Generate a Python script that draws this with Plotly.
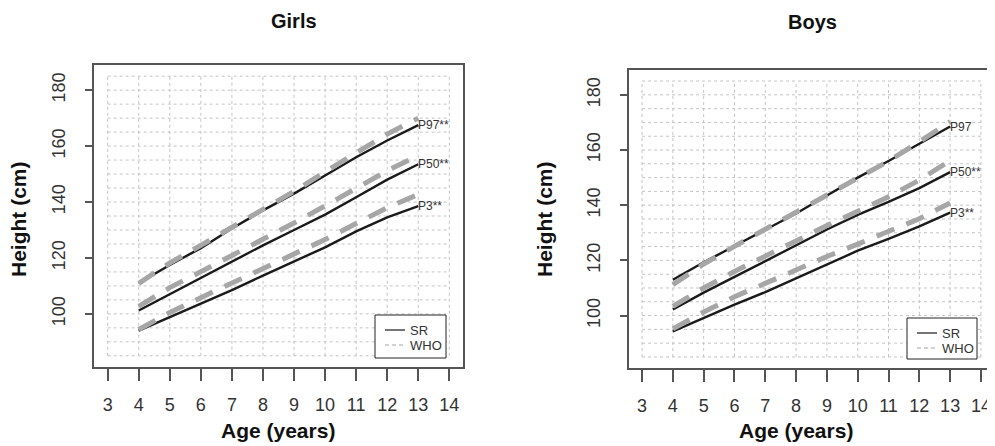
import plotly.graph_objects as go

# The page body has an 8px margin; the figure is shifted by it.
OFF = 8
W, H = 995 - OFF, 446 - OFF

ages = [4, 5, 6, 7, 8, 9, 10, 11, 12, 13]

# Girls
girls_sr_p3 = [94.0, 98.8, 103.5, 108.5, 113.7, 118.8, 123.8, 129.5, 134.5, 138.5]
girls_sr_p50 = [101.2, 107.0, 113.0, 118.8, 124.5, 130.0, 135.5, 141.7, 148.0, 153.5]
girls_sr_p97 = [111.0, 117.5, 123.5, 130.5, 137.0, 143.0, 149.5, 156.0, 162.0, 167.5]
girls_who_p3 = [94.4, 100.5, 105.8, 111.0, 116.1, 121.2, 126.6, 132.3, 138.0, 142.7]
girls_who_p50 = [102.7, 109.4, 115.1, 120.8, 126.6, 132.5, 138.6, 145.0, 151.2, 156.6]
girls_who_p97 = [110.9, 118.2, 124.5, 130.9, 137.3, 143.8, 150.8, 157.7, 164.3, 170.0]
girls_labels = ["P3**", "P50**", "P97**"]

# Boys
boys_sr_p3 = [94.3, 99.2, 104.0, 108.5, 113.5, 118.5, 123.5, 127.8, 132.3, 137.3]
boys_sr_p50 = [102.2, 108.3, 114.0, 119.8, 125.5, 131.2, 136.5, 141.2, 146.2, 152.0]
boys_sr_p97 = [113.0, 119.3, 125.2, 131.0, 137.0, 143.5, 150.0, 156.0, 162.3, 168.5]
boys_who_p3 = [95.2, 101.3, 106.8, 111.8, 116.7, 121.4, 125.9, 130.4, 135.1, 140.8]
boys_who_p50 = [103.3, 110.0, 116.0, 121.7, 127.3, 132.6, 137.8, 143.1, 149.1, 156.2]
boys_who_p97 = [111.2, 118.7, 125.1, 131.3, 137.3, 143.3, 149.5, 156.0, 163.0, 170.3]
boys_labels = ["P3**", "P50**", "P97"]

x_ticks = list(range(3, 15))
y_ticks = [100, 120, 140, 160, 180]
grid_x = list(range(3, 15))
grid_y = list(range(85, 190, 5))

BLACK = "#1a1a1a"
GRAY = "#a6a6a6"
FRAME = "#555555"
TXT = "#333333"
FONT = "Liberation Sans, Arial, sans-serif"


def px_x(p):
    return (p - OFF) / W


def px_y(p):
    return 1 - (p - OFF) / H


fig = go.Figure()

panels = [
    dict(name="Girls", xa="x", ya="y",
         sr=[girls_sr_p3, girls_sr_p50, girls_sr_p97],
         who=[girls_who_p3, girls_who_p50, girls_who_p97],
         labels=girls_labels,
         box=(94, 463, 65, 367), title_xy=(294, 21), ytitle_xy=(18, 219),
         xtitle_xy=(278, 430), leg=(375, 446, 315, 358)),
    dict(name="Boys", xa="x2", ya="y2",
         sr=[boys_sr_p3, boys_sr_p50, boys_sr_p97],
         who=[boys_who_p3, boys_who_p50, boys_who_p97],
         labels=boys_labels,
         box=(628.5, 994.5, 70, 368), title_xy=(812, 22), ytitle_xy=(544, 219),
         xtitle_xy=(796, 430), leg=(907, 977, 318, 359)),
]

shapes = []
annotations = []

for pnl in panels:
    xa, ya = pnl["xa"], pnl["ya"]
    # grid
    for gx in grid_x:
        shapes.append(dict(type="line", xref=xa, yref=ya, x0=gx, x1=gx,
                           y0=grid_y[0], y1=grid_y[-1], layer="below",
                           line=dict(color="#c4c4c4", width=1, dash="dot")))
    for gy in grid_y:
        shapes.append(dict(type="line", xref=xa, yref=ya, x0=grid_x[0], x1=grid_x[-1],
                           y0=gy, y1=gy, layer="below",
                           line=dict(color="#c4c4c4", width=1, dash="dot")))
    for s in pnl["sr"]:
        fig.add_trace(go.Scatter(x=ages, y=s, mode="lines", xaxis=xa, yaxis=ya,
                                 line=dict(color=BLACK, width=2.4), showlegend=False,
                                 hoverinfo="skip"))
    for s in pnl["who"]:
        fig.add_trace(go.Scatter(x=ages, y=s, mode="lines", xaxis=xa, yaxis=ya,
                                 line=dict(color=GRAY, width=5, dash="19px,13px"),
                                 showlegend=False, hoverinfo="skip"))
    for s, lab in zip(pnl["sr"], pnl["labels"]):
        annotations.append(dict(x=ages[-1], y=s[-1], xref=xa, yref=ya, text=lab,
                                showarrow=False, xanchor="left", yanchor="middle",
                                xshift=-2, font=dict(family=FONT, size=12, color=TXT)))
    # titles
    tx, ty = pnl["title_xy"]
    annotations.append(dict(x=px_x(tx), y=px_y(ty), xref="paper", yref="paper",
                            text="<b>%s</b>" % pnl["name"], showarrow=False,
                            xanchor="center", yanchor="middle",
                            font=dict(family=FONT, size=20, color="#111111")))
    yx, yy = pnl["ytitle_xy"]
    annotations.append(dict(x=px_x(yx), y=px_y(yy), xref="paper", yref="paper",
                            text="<b>Height (cm)</b>", showarrow=False, textangle=-90,
                            xanchor="center", yanchor="middle",
                            font=dict(family=FONT, size=21, color="#111111")))
    ax_, ay_ = pnl["xtitle_xy"]
    annotations.append(dict(x=px_x(ax_), y=px_y(ay_), xref="paper", yref="paper",
                            text="<b>Age (years)</b>", showarrow=False,
                            xanchor="center", yanchor="middle",
                            font=dict(family=FONT, size=21, color="#111111")))
    # legend box
    l0, l1, t0, t1 = pnl["leg"]
    shapes.append(dict(type="rect", xref="paper", yref="paper",
                       x0=px_x(l0), x1=px_x(l1), y0=px_y(t1), y1=px_y(t0),
                       line=dict(color="#222222", width=1), fillcolor="white", layer="above"))
    ly1 = t0 + 15
    ly2 = t0 + 30
    shapes.append(dict(type="line", xref="paper", yref="paper",
                       x0=px_x(l0 + 10), x1=px_x(l0 + 30), y0=px_y(ly1), y1=px_y(ly1),
                       line=dict(color=BLACK, width=1.2), layer="above"))
    shapes.append(dict(type="line", xref="paper", yref="paper",
                       x0=px_x(l0 + 10), x1=px_x(l0 + 30), y0=px_y(ly2), y1=px_y(ly2),
                       line=dict(color=GRAY, width=1.2, dash="4px,3px"), layer="above"))
    annotations.append(dict(x=px_x(l0 + 33), y=px_y(ly1), xref="paper", yref="paper",
                            text="SR", showarrow=False, xanchor="left", yanchor="middle",
                            font=dict(family=FONT, size=13, color=TXT)))
    annotations.append(dict(x=px_x(l0 + 33), y=px_y(ly2), xref="paper", yref="paper",
                            text="WHO", showarrow=False, xanchor="left", yanchor="middle",
                            font=dict(family=FONT, size=13, color=TXT)))

g, b = panels
axis_common_x = dict(range=[2.56, 14.44], tickvals=x_ticks, ticks="outside", ticklen=12,
                     tickcolor=FRAME, tickwidth=1.5, showline=True, linecolor=FRAME,
                     linewidth=1.5, mirror=True, showgrid=False, zeroline=False,
                     ticklabelstandoff=9,
                     tickfont=dict(family=FONT, size=18, color=TXT))
axis_common_y = dict(range=[81, 189], tickvals=y_ticks, ticks="outside", ticklen=7,
                     tickcolor=FRAME, tickwidth=1.5, showline=True, linecolor=FRAME,
                     linewidth=1.5, mirror=True, showgrid=False, zeroline=False,
                     tickangle=-90, ticklabelstandoff=13,
                     tickfont=dict(family=FONT, size=18, color=TXT))

fig.update_layout(
    width=W, height=H,
    margin=dict(l=0, r=0, t=0, b=0),
    paper_bgcolor="white", plot_bgcolor="white",
    showlegend=False,
    xaxis=dict(domain=[px_x(g["box"][0]), px_x(g["box"][1])], anchor="y", **axis_common_x),
    yaxis=dict(domain=[px_y(g["box"][3]), px_y(g["box"][2])], anchor="x", **axis_common_y),
    xaxis2=dict(domain=[px_x(b["box"][0]), min(1.0, px_x(b["box"][1]))], anchor="y2", **axis_common_x),
    yaxis2=dict(domain=[px_y(b["box"][3]), px_y(b["box"][2])], anchor="x2", **axis_common_y),
    shapes=shapes,
    annotations=annotations,
)

fig.write_html("out.html")
